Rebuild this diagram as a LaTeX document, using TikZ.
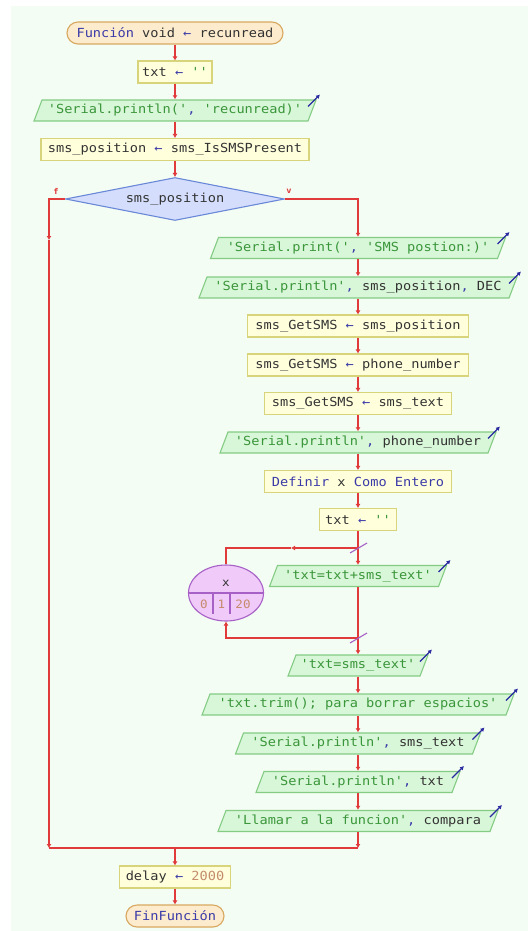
\documentclass[tikz,border=0pt]{standalone}
\usepackage{fontspec}
\newfontfamily\pfont[FakeStretch=1.09]{DejaVu Sans Mono}
\usetikzlibrary{shapes.geometric,arrows.meta}
\definecolor{bgc}{HTML}{F4FDF4}
\definecolor{txtc}{HTML}{333333}
\definecolor{kwc}{HTML}{3A3AA8}
\definecolor{strc}{HTML}{3A963A}
\definecolor{numc}{HTML}{C48C6C}
\definecolor{linec}{HTML}{E03A3A}
\definecolor{termf}{HTML}{FCEBCD}
\definecolor{termd}{HTML}{D8A860}
\definecolor{procf}{HTML}{FFFFDC}
\definecolor{procd}{HTML}{D8D47C}
\definecolor{iof}{HTML}{D8F6D8}
\definecolor{iod}{HTML}{84CC84}
\definecolor{diaf}{HTML}{D4DEFC}
\definecolor{diad}{HTML}{6A88D8}
\definecolor{loopf}{HTML}{F0CAF8}
\definecolor{loopd}{HTML}{A660C6}
\definecolor{ioarr}{HTML}{2A2AA0}
\newcommand\kw[1]{\textcolor{kwc}{#1}}
\newcommand\str[1]{\textcolor{strc}{#1}}
\newcommand\nm[1]{\textcolor{numc}{#1}}
\newcommand\ar{\textcolor{kwc}{←}}
\tikzset{
  x=1pt, y=-1pt,
  every node/.style={font=\pfont\fontsize{12.5}{14}\selectfont, text=txtc},
  base/.style={draw, line width=1.1pt, minimum height=22pt, inner sep=0pt},
  proc/.style={base, fill=procf, draw=procd},
  term/.style={base, fill=termf, draw=termd, rounded corners=11pt},
  iotext/.style={minimum height=22pt, inner sep=0pt},
  iofill/.style={fill=iof, draw=iod, line width=1.1pt},
  ioarrow/.style={draw=ioarr, line width=1.1pt, -{Latex[length=4pt,width=4.5pt]}},
  dec/.style={diamond, aspect=5, fill=diaf, draw=diad, line width=1.1pt, minimum width=219pt, minimum height=43pt, inner sep=0pt},
  loopnode/.style={ellipse, fill=loopf, draw=loopd, line width=1.1pt, minimum width=75pt, minimum height=56pt, inner sep=0pt},
  loopline/.style={draw=loopd, line width=1.1pt},
  conn/.style={draw=linec, line width=1.1pt},
  flow/.style={conn, -{Latex[length=4pt,width=5pt]}},
  lbl/.style={font=\pfont\bfseries\fontsize{8}{9}\selectfont, text=linec, inner sep=0pt},
  small/.style={font=\pfont\fontsize{11.5}{13}\selectfont, inner sep=0pt},
}
\newcommand\iobox[5]{%
  \filldraw[iofill] (#2-#4,#3+10.5) -- (#2-#4+8,#3-10.5) -- (#2+#4,#3-10.5) -- (#2+#4-8,#3+10.5) -- cycle;
  \node[iotext, minimum width={(2*#4-8)*1pt}] (#1) at (#2,#3) {#5};
  \draw[ioarrow] (#2+#4-8,#3-4) -- (#2+#4+4,#3-16);
}
\begin{document}
\begin{tikzpicture}
\useasboundingbox (0,0) rectangle (528,931);
\fill[bgc] (11,6) rectangle (528,931);

% left column
\node[term, minimum width=216pt] (start) at (175,33) {\kw{Función} void \ar{} recunread};
\node[proc, minimum width=74pt] (t1) at (175,72) {txt \ar{} \str{''}};
\iobox{io1}{175}{110.5}{141}{\str{'Serial.println('}\kw{,} \str{'recunread)'}}
\node[proc, minimum width=268pt] (p2) at (175,149.5) {sms\_position \ar{} sms\_IsSMSPresent};
\node[dec] (dia) at (175,199) {sms\_position};
\node[lbl] (lf) at (56,191) {f};
\node[lbl] (lv) at (289,191) {v};

% right column
\iobox{io2}{358}{248}{147.5}{\str{'Serial.print('}\kw{,} \str{'SMS postion:)'}}
\iobox{io3}{358}{287.5}{159}{\str{'Serial.println'}\kw{,} sms\_position\kw{,} DEC}
\node[proc, minimum width=221pt] (p3) at (358,326) {sms\_GetSMS \ar{} sms\_position};
\node[proc, minimum width=221pt] (p4) at (358,365) {sms\_GetSMS \ar{} phone\_number};
\node[proc, minimum width=187pt] (p5) at (358,403.5) {sms\_GetSMS \ar{} sms\_text};
\iobox{io4}{358}{442.5}{138}{\str{'Serial.println'}\kw{,} phone\_number}
\node[proc, minimum width=187pt] (p6) at (358,481.5) {\kw{Definir} x \kw{Como Entero}};
\node[proc, minimum width=77pt] (p7) at (358,519.5) {txt \ar{} \str{''}};
\iobox{io5}{358}{576}{88.5}{\str{'txt=txt+sms\_text'}}

% loop
\node[loopnode] (loop) at (226,593) {};
\draw[loopline] (loop.west) -- (loop.east);
\coordinate (v1t) at (213,593); \coordinate (v1b) at (213,614);
\coordinate (v2t) at (230,593); \coordinate (v2b) at (230,614);
\draw[loopline] (v1t) -- (v1b);
\draw[loopline] (v2t) -- (v2b);
\node[small] (lx) at (226,583) {x};
\node[small] (l0) at (204,604) {\nm{0}};
\node[small] (l1) at (221.5,604) {\nm{1}};
\node[small] (l20) at (243,604) {\nm{20}};

\iobox{io6}{358}{665.5}{70}{\str{'txt=sms\_text'}}
\iobox{io7}{358}{704.5}{156}{\str{'txt.trim(); para borrar espacios'}}
\iobox{io8}{358}{743.5}{122.5}{\str{'Serial.println'}\kw{,} sms\_text}
\iobox{io9}{358}{782}{102}{\str{'Serial.println'}\kw{,} txt}
\iobox{io10}{358}{821}{140}{\str{'Llamar a la funcion'}\kw{,} compara}

\node[proc, minimum width=111pt] (p8) at (175,877) {delay \ar{} \nm{2000}};
\node[term, minimum width=98pt] (end) at (175,916) {\kw{FinFunción}};

% coordinates
\coordinate (fmid) at (49,240);
\coordinate (jl) at (49,848);
\coordinate (jr) at (358,848);
\coordinate (jm) at (175,848);
\coordinate (lt) at (358,548);
\coordinate (ltick) at (291,548);
\coordinate (lc) at (226,548);
\coordinate (lb) at (358,638);
\coordinate (lbc) at (226,638);
\coordinate (st1) at (350,553); \coordinate (st2) at (367,543);
\coordinate (sb1) at (350,643); \coordinate (sb2) at (367,633);

% connectors
\draw[flow] (start) -- (t1);
\draw[flow] (t1) -- (io1);
\draw[flow] (io1) -- (p2);
\draw[flow] (p2) -- (dia);
\draw[flow] (dia.west) -| (fmid);
\draw[flow] (fmid) -- (jl);
\draw[flow] (dia.east) -| (io2);
\draw[flow] (io2) -- (io3);
\draw[flow] (io3) -- (p3);
\draw[flow] (p3) -- (p4);
\draw[flow] (p4) -- (p5);
\draw[flow] (p5) -- (io4);
\draw[flow] (io4) -- (p6);
\draw[flow] (p6) -- (p7);
\draw[flow] (p7) -- (io5);
\draw[flow] (lt) -- (ltick);
\draw[conn] (ltick) -- (lc) -- (loop.north);
\draw[flow] (io5) -- (io6);
\draw[flow] (lb) -- (lbc) -- (loop.south);
\draw[loopline] (st1) -- (st2);
\draw[loopline] (sb1) -- (sb2);
\draw[flow] (io6) -- (io7);
\draw[flow] (io7) -- (io8);
\draw[flow] (io8) -- (io9);
\draw[flow] (io9) -- (io10);
\draw[flow] (io10) -- (jr);
\draw[conn] (jl) -- (jr);
\draw[flow] (jm) -- (p8);
\draw[flow] (p8) -- (end);
\end{tikzpicture}
\end{document}
